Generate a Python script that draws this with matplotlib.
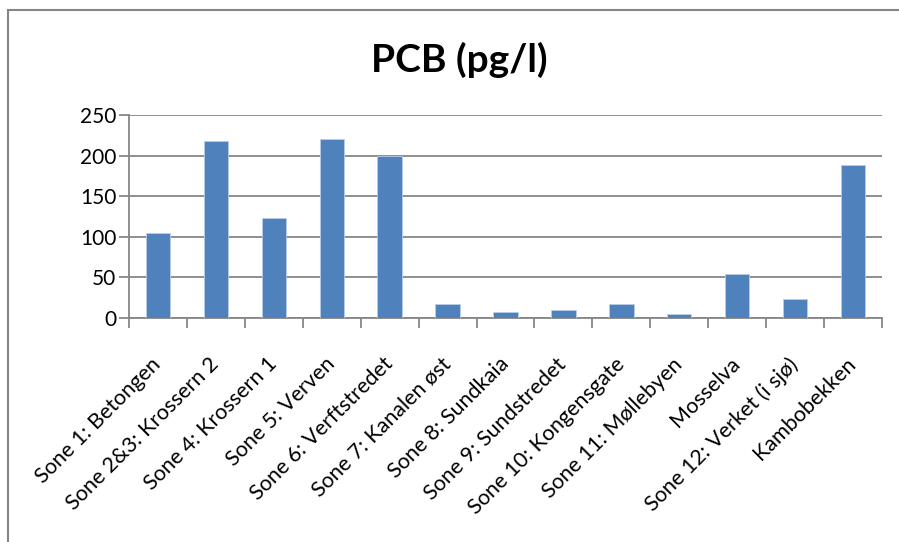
import matplotlib.pyplot as plt
from matplotlib.lines import Line2D
import numpy as np

plt.rcParams['font.family'] = ['Lato', 'DejaVu Sans']

categories = [
    "Sone 1: Betongen", "Sone 2&3: Krossern 2", "Sone 4: Krossern 1",
    "Sone 5: Verven", "Sone 6: Verftstredet", "Sone 7: Kanalen øst",
    "Sone 8: Sundkaia", "Sone 9: Sundstredet", "Sone 10: Kongensgate",
    "Sone 11: Møllebyen", "Mosselva", "Sone 12: Verket (i sjø)", "Kambobekken",
]
pcb = [105, 218, 123, 221, 200, 17, 8, 10, 17, 5, 54, 24, 188]
yticks = [0, 50, 100, 150, 200, 250]

grey = "#868686"

fig = plt.figure(figsize=(8.99, 5.42), dpi=100)
ax = fig.add_axes([129 / 899, 1 - 318 / 542, (882 - 129) / 899, (318 - 115) / 542])

x = np.arange(len(categories))
ax.bar(x, pcb, width=0.42, color="#4F81BD", edgecolor="#B9CDE5", linewidth=0.6, zorder=3)

ax.set_xlim(-0.5, len(categories) - 0.5)
ax.set_ylim(0, 250)
ax.set_yticks(yticks)
ax.set_yticklabels([str(v) for v in yticks], fontsize=15)
ax.yaxis.grid(True, color=grey, linewidth=1.3, zorder=0)

ax.set_xticks(x)
ax.set_xticklabels(categories, rotation=45, ha="right", va="center",
                   rotation_mode="anchor", fontsize=15.5)
ax.set_xticks(np.arange(-0.5, len(categories)), minor=True)
ax.tick_params(axis="x", which="major", length=0, pad=31)
ax.tick_params(axis="x", which="minor", length=7, width=1.3, color=grey)
ax.tick_params(axis="y", length=7, width=1.3, color=grey, pad=2)

for side in ["top", "right"]:
    ax.spines[side].set_visible(False)
for side in ["left", "bottom"]:
    ax.spines[side].set_color(grey)
    ax.spines[side].set_linewidth(1.3)

fig.text(459 / 899, 1 - 60 / 542, "PCB (pg/l)", ha="center", va="center",
         fontsize=28, fontweight="bold")

# chart frame (cut off at right and bottom)
fx = 8 / 899
fy = 1 - 10 / 542
fig.add_artist(Line2D([fx, fx], [0, fy], color=grey, linewidth=1.5))
fig.add_artist(Line2D([fx, 1], [fy, fy], color=grey, linewidth=1.5))

fig.savefig("out.png", dpi=100)
